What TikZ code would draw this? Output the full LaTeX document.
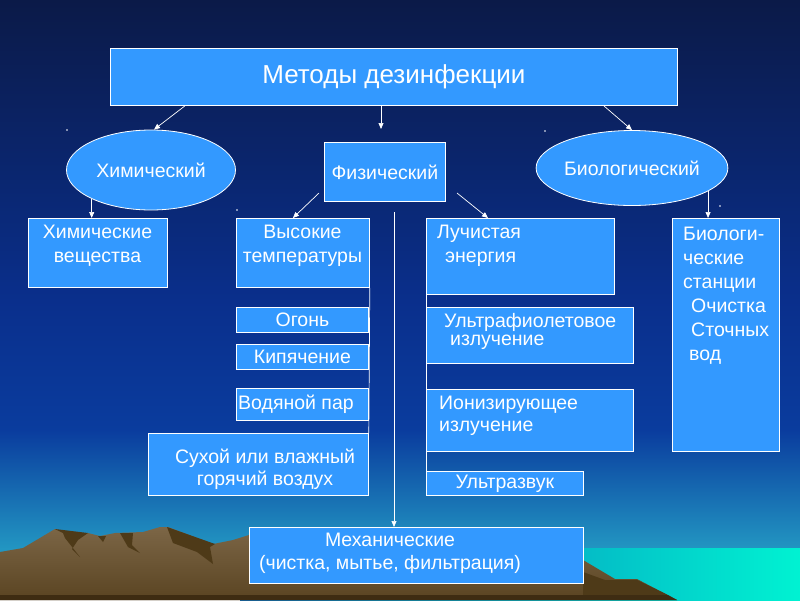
\documentclass[tikz,border=0pt]{standalone}
\usepackage{fontspec}
\setmainfont{Liberation Sans}
\usetikzlibrary{shapes.geometric,arrows.meta}

\definecolor{boxblue}{HTML}{3399FF}
\definecolor{skytop}{HTML}{0B1A48}
\definecolor{skymid}{HTML}{0A2F8C}
\definecolor{skylow}{HTML}{0A3C9E}
\definecolor{skyhor}{HTML}{2296C2}
\definecolor{seal}{HTML}{0A68B4}
\definecolor{sear}{HTML}{00F2D2}
\definecolor{rockhi}{HTML}{7C6646}
\definecolor{rocklo}{HTML}{5A4422}
\definecolor{rockdk}{HTML}{4E3A18}
\definecolor{rockbase}{HTML}{3E2C12}

\tikzset{
    box/.style={draw=white, fill=boxblue, line width=0.8pt, inner sep=0pt,
        anchor=north west, text=white, font=\fontsize{19.5}{24}\selectfont},
    oval/.style={ellipse, draw=white, fill=boxblue, line width=0.8pt,
        inner sep=0pt, text=white, font=\fontsize{19.5}{24}\selectfont},
    lbl/.style={text=white, inner sep=0pt, font=\fontsize{19.5}{24}\selectfont},
    link/.style={draw=white, line width=0.7pt},
}

\begin{document}
\begin{tikzpicture}[x=1pt, y=-1pt, >={Triangle[length=6pt,width=5pt]}]
    % Background
    \useasboundingbox (0,0) rectangle (800,600);
    \shade [top color=skytop, bottom color=skymid] (0,0) rectangle (800,301);
    \shade [top color=skymid, bottom color=skylow] (0,300) rectangle (800,431);
    \shade [top color=skylow, bottom color=skyhor] (0,430) rectangle (800,549);
    \fill [skyhor] (0,548) rectangle (800,600);
    \shade [left color=seal, right color=sear] (240,548) rectangle (800,600);

    % Mountains
    \shade [top color=rockhi, bottom color=rocklo] (0,552) -- (23,548) -- (55,529)
        -- (70,533) -- (88,533) -- (100,536) -- (115,533) -- (143,532) -- (160,527)
        -- (168,527) -- (213,544) -- (233,540) -- (249,535) -- (583,560) -- (615,579)
        -- (637,579) -- (677,600) -- (0,600) -- cycle;
    \fill [rockdk] (55,529) -- (88,533) -- (78,540) -- (72,549) -- (80,557)
        -- (65,538) -- (63,533) -- cycle;
    \fill [rockdk] (98,536) -- (106,536) -- (103,542) -- cycle;
    \fill [rockdk] (120,533) -- (133,533) -- (132,545) -- (140,553) -- (128,547) -- cycle;
    \fill [rockdk] (167,527) -- (215,544) -- (210,547) -- (213,564) -- (197,552)
        -- (173,543) -- cycle;
    \fill [rockdk] (583,572) -- (605,580) -- (637,580) -- (668,595) -- (583,595) -- cycle;
    \fill [rockbase] (0,595) -- (668,595) -- (677,600) -- (0,600) -- cycle;

    % Stray dots
    \fill [white] (67,130) circle (0.8);
    \fill [white] (237,210) circle (0.8);
    \fill [white] (545,131) circle (0.8);
    \fill [white] (720,206) circle (0.8);

    % Top level
    \node [box, minimum width=567pt, minimum height=57pt, font=\fontsize{26}{30}\selectfont]
        (title) at (110,48) {Методы дезинфекции};
    \node [oval, minimum width=169pt, minimum height=80pt] (chem) at (151,170) {Химический};
    \node [box, minimum width=121pt, minimum height=59pt] (phys) at (324,142) {Физический};
    \node [oval, minimum width=173pt, minimum height=75pt] (bio) at (632,168) {Биологический};

    % Second level boxes
    \node [box, minimum width=139pt, minimum height=69pt] (chemsub) at (28,218) {};
    \node [box, minimum width=133pt, minimum height=69pt] (hot) at (236,218) {};
    \node [box, minimum width=188pt, minimum height=76pt] (rad) at (426,218) {};
    \node [box, minimum width=107pt, minimum height=233pt] (biost) at (672,218) {};

    % Heat branch
    \node [box, minimum width=132pt, minimum height=25pt] (fire) at (236,307) {Огонь};
    \node [box, minimum width=132pt, minimum height=25pt] (boil) at (236,344) {Кипячение};
    \node [box, minimum width=132pt, minimum height=32pt] (steam) at (236,388) {};
    \node [box, minimum width=220pt, minimum height=62pt] (dry) at (148,433) {};

    % Radiation branch
    \node [box, minimum width=207pt, minimum height=56pt] (uv) at (426,307) {};
    \node [box, minimum width=207pt, minimum height=62pt] (ion) at (426,389) {};
    \node [box, minimum width=157pt, minimum height=24pt] (us) at (426,471) {Ультразвук};

    % Mechanical
    \node [box, minimum width=334pt, minimum height=56pt] (mech) at (249,527) {};

    % Box texts (placed at the baseline of their last line)
    \node [lbl, align=center, anchor=base] (lchemsub) at (97.5,262) {Химические\\вещества};
    \node [lbl, align=center, anchor=base] (lhot) at (302.5,262) {Высокие\\температуры};
    \node [lbl, align=left, anchor=base west] (lrad) at (437,262)
        {Лучистая\\\hspace*{8pt}энергия};
    \node [lbl, align=left, anchor=base west] (lbiost) at (683,360)
        {Биологи-\\ческие\\станции\\\hspace*{8pt}Очистка\\\hspace*{8pt}Сточных\\\hspace*{6pt}вод};
    \node [lbl, anchor=base west] (lsteam) at (238,409) {Водяной пар};
    \node [lbl, align=center, anchor=base, font=\fontsize{19.5}{22}\selectfont] (ldry)
        at (265,485) {Сухой или влажный\\горячий воздух};
    \node [lbl, align=left, anchor=base west, font=\fontsize{19.5}{18}\selectfont] (luv)
        at (444,345) {Ультрафиолетовое\\\hspace*{6pt}излучение};
    \node [lbl, align=left, anchor=base west, font=\fontsize{19.5}{22}\selectfont] (lion)
        at (439,431) {Ионизирующее\\излучение};
    \node [lbl, align=center, anchor=base, font=\fontsize{19.5}{23}\selectfont] (lmech)
        at (390,569) {Механические\\(чистка, мытье, фильтрация)};

    % Arrows
    \coordinate (tp) at (381,129);
    \coordinate (ph1) at (319,193);
    \coordinate (ph2) at (457,193);
    \coordinate (mtop) at (394,212);
    \draw [link, ->] ([xshift=75pt]title.south west) -- ([xshift=3pt]chem.north);
    \draw [link, ->] (title.south -| tp) -- (tp);
    \draw [link, ->] ([xshift=-74pt]title.south east) -- (bio.north);
    \draw [link, ->] (chem.206) -- (chem.206 |- chemsub.north);
    \draw [link, ->] (bio.-17.4) -- (bio.-17.4 |- biost.north);
    \draw [link, ->] (ph1) -- ([xshift=-10pt]hot.north);
    \draw [link, ->] (ph2) -- ([xshift=62pt]rad.north west);
    \draw [link, ->] (mtop) -- (mtop |- mech.north);

    % Trunks
    \draw [link] (hot.south east) -- (dry.north east);
    \draw [link] (rad.south west) -- (us.north west);
\end{tikzpicture}
\end{document}
